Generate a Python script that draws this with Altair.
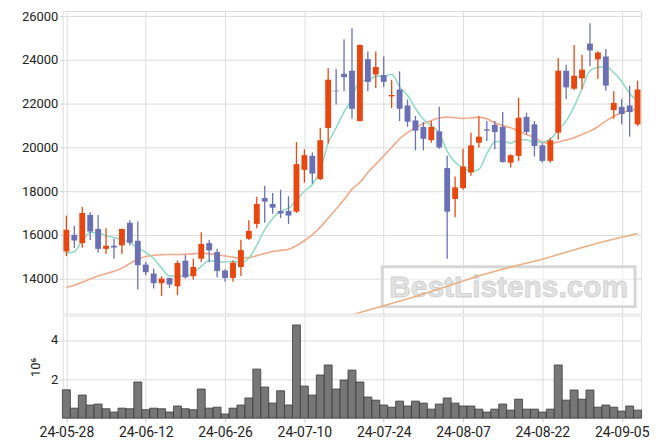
import altair as alt
import pandas as pd

dates = [
    "2024-05-28", "2024-05-29", "2024-05-30", "2024-05-31",
    "2024-06-03", "2024-06-04", "2024-06-05", "2024-06-07", "2024-06-10", "2024-06-11",
    "2024-06-12", "2024-06-13", "2024-06-14", "2024-06-17", "2024-06-18", "2024-06-19",
    "2024-06-20", "2024-06-21", "2024-06-24", "2024-06-25", "2024-06-26", "2024-06-27",
    "2024-06-28",
    "2024-07-01", "2024-07-02", "2024-07-03", "2024-07-04", "2024-07-05", "2024-07-08",
    "2024-07-09", "2024-07-10", "2024-07-11", "2024-07-12", "2024-07-15", "2024-07-16",
    "2024-07-17", "2024-07-18", "2024-07-19", "2024-07-22", "2024-07-23", "2024-07-24",
    "2024-07-25", "2024-07-26", "2024-07-29", "2024-07-30", "2024-07-31",
    "2024-08-01", "2024-08-02", "2024-08-05", "2024-08-06", "2024-08-07", "2024-08-08",
    "2024-08-09", "2024-08-12", "2024-08-13", "2024-08-14", "2024-08-16", "2024-08-19",
    "2024-08-20", "2024-08-21", "2024-08-22", "2024-08-23", "2024-08-26", "2024-08-27",
    "2024-08-28", "2024-08-29", "2024-08-30",
    "2024-09-02", "2024-09-03", "2024-09-04", "2024-09-05", "2024-09-06", "2024-09-09",
]

opens = [15240, 16000, 15620, 16910, 16270, 15360, 15500, 15520, 16550, 15730,
         14640, 14230, 13790, 14030, 13650, 14820, 14110, 14910, 15620, 15210,
         14370, 14030, 14530, 15820, 16500, 17680, 17410, 17090, 17090, 17060,
         18970, 19610, 18550, 20880, 22590, 23360, 23500, 21200, 24030, 23330,
         23300, 22330, 22640, 21910, 21230, 20930, 20330, 20730, 19050, 17640,
         18140, 18850, 20210, 20820, 21030, 20940, 19300, 19610, 21390, 21050,
         20090, 19380, 20670, 23500, 22680, 23150, 24740, 24020, 24150, 21700,
         21850, 21910, 21050]
highs = [16880, 16420, 17270, 17030, 16910, 16300, 15820, 16290, 16670, 16610,
         14760, 14460, 14110, 14040, 14830, 15090, 14910, 16120, 15770, 15360,
         14430, 14830, 15770, 16670, 17740, 18240, 17910, 18060, 17760, 20240,
         19910, 19760, 20890, 23620, 23580, 24940, 25440, 24700, 24380, 24380,
         24150, 23090, 23470, 22180, 21430, 21150, 21200, 21850, 19610, 18670,
         19940, 20670, 21420, 21200, 21200, 21610, 19680, 22260, 21580, 21200,
         20210, 20440, 24080, 23770, 24680, 24230, 25670, 24390, 24490, 22560,
         22210, 22820, 23050]
lows = [15030, 15400, 15410, 15760, 15180, 15140, 14910, 15120, 15520, 13500,
        14150, 13550, 13210, 13580, 13240, 14000, 13960, 14760, 14730, 14060,
        13850, 13850, 14120, 15760, 16300, 16550, 16960, 16760, 16500, 17000,
        18390, 18350, 18500, 20180, 21960, 22560, 21300, 21180, 22560, 22710,
        22760, 21800, 21200, 20940, 19860, 19860, 20210, 19940, 14910, 16800,
        18060, 18700, 19990, 20290, 19910, 19300, 19080, 19380, 20590, 19580,
        19300, 19300, 20360, 22210, 22610, 22670, 23700, 23120, 22590, 21300,
        21050, 20490, 20970]
closes = [16230, 15740, 17000, 16150, 15360, 15500, 15420, 16270, 15640, 14610,
          14290, 13790, 14000, 13730, 14710, 14060, 14530, 15580, 15290, 14350,
          14030, 14730, 15300, 16180, 17410, 17520, 17240, 16970, 16880, 19230,
          19640, 18800, 20320, 23090, 22560, 23210, 21760, 24680, 22990, 23670,
          22990, 22390, 21760, 21170, 20760, 20390, 20930, 19990, 17060, 18170,
          19120, 20090, 20490, 20760, 20700, 19330, 19640, 21350, 20700, 20060,
          19380, 20320, 23500, 22740, 23270, 23550, 24430, 24330, 22820, 22030,
          21520, 21610, 22640]
volumes = [1450000, 510000, 1180000, 670000, 720000, 480000, 310000, 510000, 480000, 1850000,
           430000, 510000, 480000, 310000, 620000, 480000, 430000, 1490000, 510000, 560000,
           210000, 510000, 670000, 1030000, 2510000, 1590000, 770000, 1400000, 670000, 4770000,
           1640000, 1180000, 2210000, 2720000, 1490000, 1950000, 2460000, 1850000, 1080000, 920000,
           670000, 560000, 870000, 620000, 870000, 770000, 460000, 720000, 1030000, 770000,
           620000, 620000, 460000, 310000, 460000, 720000, 410000, 970000, 460000, 460000,
           310000, 460000, 2720000, 920000, 1440000, 970000, 1440000, 560000, 670000, 560000,
           360000, 620000, 410000]
ma5 = [15170, 15230, 15750, 16110, 16090, 15960, 15880, 15760, 15650, 15400,
       15200, 14920, 14480, 14120, 14120, 14130, 14260, 14560, 14830, 14770,
       14760, 14790, 14750, 14930, 15530, 16240, 16750, 17070, 17220, 17580,
       17990, 18300, 18960, 20200, 20890, 21620, 22220, 23060, 23050, 23260,
       23230, 23340, 22760, 22380, 21780, 21280, 20990, 20640, 19830, 19320,
       19060, 18890, 18990, 19710, 20240, 20280, 20190, 20360, 20350, 20220,
       20240, 20370, 20780, 21210, 21860, 22690, 23500, 23660, 23680, 23420,
       23010, 22460, 22120]
ma20 = [13600, 13700, 13830, 13980, 14120, 14230, 14330, 14480, 14690, 14880,
        15010, 15060, 15090, 15100, 15100, 15110, 15130, 15170, 15130, 15090,
        15030, 14980, 14930, 14960, 15050, 15150, 15240, 15290, 15340, 15500,
        15740, 16000, 16350, 16760, 17180, 17610, 18090, 18400, 18850, 19230,
        19610, 19990, 20390, 20670, 20890, 21090, 21230, 21340, 21380, 21350,
        21320, 21340, 21380, 21300, 21120, 21000, 20890, 20740, 20590, 20440,
        20240, 20170, 20240, 20330, 20440, 20590, 20740, 20940, 21200, 21420,
        21580, 21680, 21760]
ma120_idx = [36, 40, 44, 48, 52, 56, 60, 64, 68, 72]
ma120 = [12350, 12760, 13180, 13650, 14130, 14530, 14880, 15320, 15720, 16060]

tick_idx = [0, 10, 20, 30, 40, 50, 60, 70]
watermark = ["BestListens.com"]

UP = "#e8470f"
DOWN = "#6b70b4"
FONT = "Roboto"

df = pd.DataFrame({
    "i": list(range(len(dates))), "date": dates,
    "open": opens, "high": highs, "low": lows, "close": closes,
    "volume": volumes, "ma5": ma5, "ma20": ma20,
})
df120 = pd.DataFrame({"i": ma120_idx, "ma120": ma120})
wm_df = pd.DataFrame({"t": watermark})

labels_js = "[" + ",".join("'" + d[2:] + "'" for d in dates) + "]"

n = len(dates)
xscale = alt.Scale(domain=[-0.46, n - 1 + 0.44], nice=False, zero=False)
pscale = alt.Scale(domain=[12400, 26230], nice=False, zero=False)
color = alt.Color("dir:N", scale=alt.Scale(domain=["up", "down"], range=[UP, DOWN]), legend=None)

x_price_axis = alt.Axis(values=tick_idx, labels=False, ticks=False, domain=False, title=None,
                        grid=True, gridColor="#dcdcdc")
y_price_axis = alt.Axis(values=[14000, 16000, 18000, 20000, 22000, 24000, 26000], title=None,
                        format="d",
                        domain=False, tickSize=3, tickColor="#cccccc", labelPadding=2,
                        labelFontSize=13, labelFont=FONT, labelColor="#222222",
                        grid=True, gridColor="#dcdcdc")

base = alt.Chart(df).transform_calculate(
    dir="datum.close >= datum.open ? 'up' : 'down'",
    x0="datum.i - 0.37", x1="datum.i + 0.37",
)

box = alt.Chart(wm_df).mark_rect(fill="#ffffff", fillOpacity=0.5, stroke="#d6d6d6",
                                  strokeWidth=3).encode(
    x=alt.value(321), x2=alt.value(575), y=alt.value(257), y2=alt.value(297))
wm_text = alt.Chart(wm_df).mark_text(font="Liberation Sans", fontWeight="bold", fontSize=30,
                                      fill="#e2e2e2", stroke="#cfcfcf", strokeWidth=0.8,
                                      align="center", baseline="middle").encode(
    x=alt.value(448), y=alt.value(278), text="t:N")

wick = base.mark_rule(strokeWidth=1.3).encode(
    x=alt.X("i:Q", scale=xscale, axis=x_price_axis),
    y=alt.Y("low:Q", scale=pscale, axis=y_price_axis),
    y2="high:Q",
    color=color,
)
body = base.mark_rect().encode(
    x="x0:Q", x2="x1:Q", y="open:Q", y2="close:Q", color=color)

line5 = base.mark_line(color="#8bdac2", strokeWidth=1.5, interpolate="monotone").encode(
    x="i:Q", y="ma5:Q")
line20 = base.mark_line(color="#f1a98b", strokeWidth=1.6, interpolate="monotone").encode(
    x="i:Q", y="ma20:Q")
line120 = alt.Chart(df120).mark_line(color="#e9b084", strokeWidth=1.6, clip=True).encode(
    x=alt.X("i:Q", scale=xscale), y=alt.Y("ma120:Q", scale=pscale))

price = alt.layer(box, wm_text, line120, line20, line5, wick, body).properties(
    width=581, height=304)

vol = alt.Chart(df).transform_calculate(
    v0="datum.i - 0.5", v1="datum.i + 0.5", vm="datum.volume / 1000000"
).mark_rect(fill="#777777", stroke="#3a3a3a", strokeWidth=0.8).encode(
    x=alt.X("v0:Q", scale=xscale,
            axis=alt.Axis(values=tick_idx, labelExpr=labels_js + "[datum.value]", title=None,
                          domain=False, tickSize=4, tickColor="#cccccc", labelPadding=3,
                          labelFontSize=14, labelFont=FONT, labelColor="#222222",
                          grid=True, gridColor="#dcdcdc")),
    x2="v1:Q",
    y=alt.Y("vm:Q", scale=alt.Scale(domain=[0, 5.25], nice=False),
            axis=alt.Axis(values=[2, 4], title="10⁶", titleFont=FONT, titleFontSize=13,
                          titleFontWeight="normal", titleColor="#222222", titlePadding=8,
                          domain=False, tickSize=3, tickColor="#cccccc", labelPadding=2,
                          labelFontSize=13, labelFont=FONT, labelColor="#222222",
                          grid=True, gridColor="#dcdcdc")),
    y2=alt.datum(0),
).properties(width=581, height=103)

chart = alt.vconcat(price, vol, spacing=0).properties(
    padding={"left": 12, "top": 0, "right": 5, "bottom": 5}
).configure_view(stroke="#cccccc", strokeWidth=1).configure(background="#ffffff")

chart.save("out.html", embed_options={"renderer": "svg", "actions": False})
